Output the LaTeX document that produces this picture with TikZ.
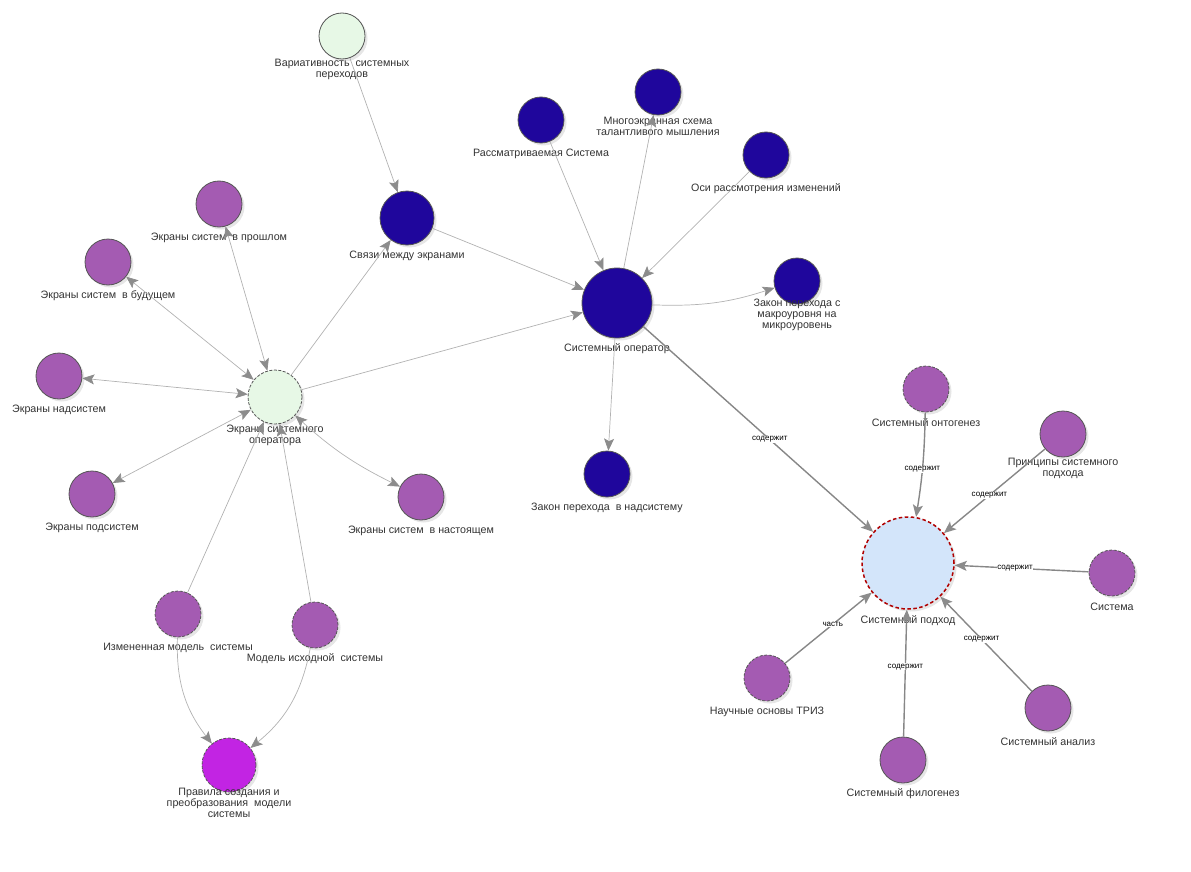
\documentclass[tikz,border=0pt]{standalone}
\usepackage{fontspec}
\setmainfont{Liberation Sans}
\usetikzlibrary{arrows.meta,shadows}

\definecolor{opblue}{RGB}{31,6,156}
\definecolor{screenviolet}{RGB}{164,91,178}
\definecolor{screengreen}{RGB}{231,248,230}
\definecolor{rulemagenta}{RGB}{194,36,227}
\definecolor{approachblue}{RGB}{211,229,250}
\definecolor{hubred}{RGB}{176,0,0}
\definecolor{ringgray}{RGB}{85,85,85}
\definecolor{linkgray}{RGB}{178,178,178}
\definecolor{hasgray}{RGB}{135,135,135}
\definecolor{tipgray}{RGB}{140,140,140}
\definecolor{txtgray}{RGB}{51,51,51}

\begin{document}
\begin{tikzpicture}
  [x=1pt,y=-1pt,
    font=\fontsize{10.7}{11}\selectfont,
    every label/.style={anchor=center,align=center,inner sep=0pt,text=txtgray},
    label distance=10.5pt,
    dot/.style={circle,draw=ringgray,line width=0.8pt,minimum size=46pt,inner sep=0pt,
      drop shadow={shadow xshift=2.5pt,shadow yshift=-2.5pt,opacity=0.2}},
    bluedot/.style={dot,fill=opblue},
    violetdot/.style={dot,fill=screenviolet},
    greendot/.style={dot,fill=screengreen},
    loose/.style={dash pattern=on 3pt off 1.5pt},
    hub/.style={dot,minimum size=92pt,fill=approachblue,draw=hubred,
      line width=1.5pt,dash pattern=on 3.5pt off 2.5pt},
    link/.style={draw=linkgray,line width=0.7pt,
      -{Stealth[length=12pt,width=10pt,inset=2.5pt,color=tipgray]}},
    bothlink/.style={link,
      {Stealth[length=12pt,width=10pt,inset=2.5pt,color=tipgray]}-{Stealth[length=12pt,width=10pt,inset=2.5pt,color=tipgray]}},
    haslink/.style={link,draw=hasgray,line width=1.4pt},
    tag/.style={font=\fontsize{8}{8}\selectfont,fill=white,inner sep=0.5pt,pos=0.55}]

  \useasboundingbox (0,0) rectangle (1191,872);

  % system operator cluster
  \node[greendot] (vari) at (342,36) [label={below:Вариативность~ системных\\переходов}] {};
  \node[bluedot,minimum size=54pt] (links) at (407,218) [label={below:Связи между экранами}] {};
  \node[bluedot,minimum size=70pt] (sysop) at (617,303) [label={below:Системный оператор}] {};
  \node[bluedot] (viewed) at (541,120) [label={below:Рассматриваемая Система}] {};
  \node[bluedot] (multi) at (658,92) [label={below:Многоэкранная схема\\талантливого мышления}] {};
  \node[bluedot] (axes) at (766,155) [label={below:Оси рассмотрения изменений}] {};
  \node[bluedot] (macro) at (797,281) [label={below:Закон перехода с\\макроуровня на\\микроуровень}] {};
  \node[bluedot] (supra) at (607,474) [label={below:Закон перехода~ в надсистему}] {};

  % screens
  \node[greendot,loose,minimum size=54pt] (screens) at (275,397) [label={below:Экраны системного\\оператора}] {};
  \node[violetdot] (past) at (219,204) [label={below:Экраны систем~ в прошлом}] {};
  \node[violetdot] (future) at (108,262) [label={below:Экраны систем~ в будущем}] {};
  \node[violetdot] (super) at (59,376) [label={below:Экраны надсистем}] {};
  \node[violetdot] (sub) at (92,494) [label={below:Экраны подсистем}] {};
  \node[violetdot] (present) at (421,497) [label={below:Экраны систем~ в настоящем}] {};
  \node[violetdot,loose] (changed) at (178,614) [label={below:Измененная модель~ системы}] {};
  \node[violetdot,loose] (source) at (315,625) [label={below:Модель исходной~ системы}] {};
  \node[dot,loose,fill=rulemagenta,minimum size=54pt] (rules) at (229,765)
    [label={below:Правила создания и\\преобразования~ модели\\системы}] {};

  % system approach
  \node[hub] (approach) at (908,563) [label={below:Системный подход}] {};
  \node[violetdot,loose] (onto) at (926,389) [label={below:Системный онтогенез}] {};
  \node[violetdot] (princ) at (1063,434) [label={below:Принципы системного\\подхода}] {};
  \node[violetdot,loose] (system) at (1112,573) [label={below:Система}] {};
  \node[violetdot] (analysis) at (1048,708) [label={below:Системный анализ}] {};
  \node[violetdot] (phylo) at (903,760) [label={below:Системный филогенез}] {};
  \node[violetdot,loose] (triz) at (767,678) [label={below:Научные основы ТРИЗ}] {};

  \draw[link] (vari) -- (links);
  \draw[link] (links) -- (sysop);
  \draw[link] (screens) -- (links);
  \draw[link] (screens) -- (sysop);
  \draw[link] (viewed) -- (sysop);
  \draw[link] (sysop) -- (multi);
  \draw[link] (axes) -- (sysop);
  \draw[link] (sysop) to[bend right=10] (macro);
  \draw[link] (sysop) -- (supra);
  \draw[haslink] (sysop) -- node[tag] {содержит} (approach);

  \draw[bothlink] (screens) -- (past);
  \draw[bothlink] (screens) -- (future);
  \draw[bothlink] (screens) -- (super);
  \draw[bothlink] (screens) -- (sub);
  \draw[bothlink] (screens) to[bend right=8] (present);
  \draw[link] (changed) -- (screens);
  \draw[link] (source) -- (screens);
  \draw[link] (changed) to[bend right=20] (rules);
  \draw[link] (source) to[bend left=20] (rules);

  \draw[haslink] (onto) to[bend left=4] node[tag] {содержит} (approach);
  \draw[haslink] (princ) -- node[tag] {содержит} (approach);
  \draw[haslink] (system) -- node[tag] {содержит} (approach);
  \draw[haslink] (analysis) -- node[tag] {содержит} (approach);
  \draw[haslink] (phylo) -- node[tag] {содержит} (approach);
  \draw[haslink] (triz) -- node[tag] {часть} (approach);

\end{tikzpicture}
\end{document}
